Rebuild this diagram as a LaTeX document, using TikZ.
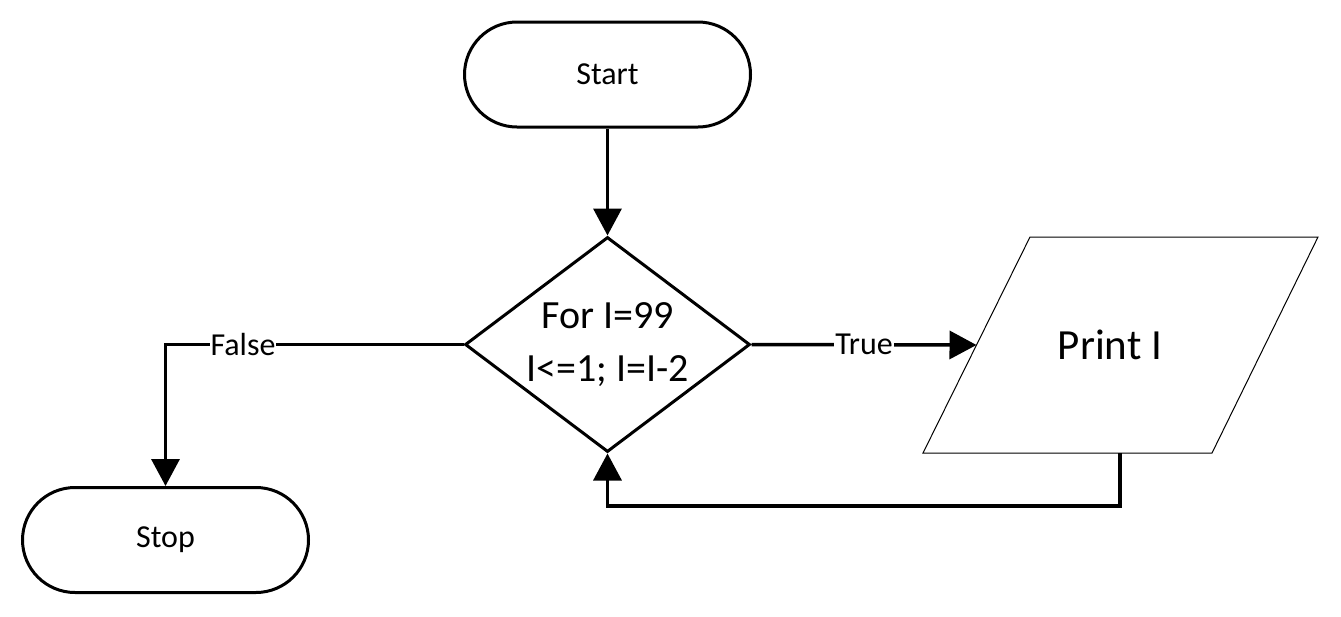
\documentclass[tikz,border=0pt]{standalone}
\usepackage{fontspec}
\setmainfont{Carlito}
\usetikzlibrary{arrows.meta,shapes.geometric,calc}
\begin{document}
\begin{tikzpicture}[x=1pt,y=-1pt,
  term/.style={draw=black,line width=3pt,rounded corners=52.5pt,minimum width=286pt,minimum height=105pt,inner sep=0pt,font=\fontsize{32}{36}\selectfont},
  decis/.style={draw=black,line width=3pt,diamond,minimum width=285pt,minimum height=215pt,inner sep=0pt},
  conn/.style={line width=3.5pt,-{Triangle[length=27pt,width=28pt]}},
  lbl/.style={fill=white,inner sep=1pt,font=\fontsize{32}{36}\selectfont}]
\useasboundingbox (0,0) rectangle (1341,616);
\fill[white] (0,0) rectangle (1341,616);
\node[term] (start) at (607.5,74.5) {Start};
\node[term] (stop) at (165.5,540) {Stop};
\node[decis] (d) at (607.5,344.5) {};
\node[font=\fontsize{40}{53}\selectfont,align=center] (dt) at (607.5,345) {For I=99\\I<=1; I=I-2};
\coordinate (p1) at (1030,237);
\coordinate (p2) at (1318,237);
\coordinate (p3) at (1212,453);
\coordinate (p4) at (923,453);
\draw[line width=1pt,fill=white] (p1) -- (p2) -- (p3) -- (p4) -- cycle;
\node[font=\fontsize{43}{48}\selectfont] (pr) at (1110,345) {Print I};
\coordinate (prl) at ($(p1)!0.5!(p4)$);
\coordinate (prb) at (1120,453);
\draw[conn] (start.south) -- (d.north);
\draw[conn] (d.east) -- node[lbl] (tl) {True} (prl);
\draw[conn] (prb) -- ++(0,53) -| (d.south);
\draw[conn] (d.west) -| node[lbl,pos=0.37] (fl) {False} (stop.north);
\end{tikzpicture}
\end{document}
